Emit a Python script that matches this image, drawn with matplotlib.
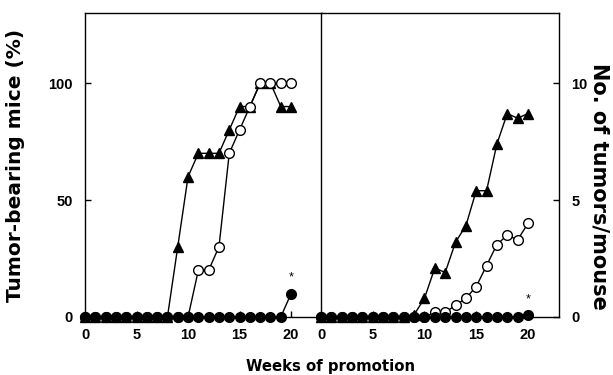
import matplotlib
matplotlib.use("Agg")
import matplotlib.pyplot as plt

plt.rcParams['font.family'] = ['Liberation Sans', 'DejaVu Sans']
plt.rcParams['font.weight'] = 'bold'

weeks = list(range(0, 21))

# left panel: tumor-bearing mice (%)
pct_triangle = [0, 0, 0, 0, 0, 0, 0, 0, 0, 30, 60, 70, 70, 70, 80, 90, 90, 100, 100, 90, 90]
pct_open = [0, 0, 0, 0, 0, 0, 0, 0, 0, 0, 0, 20, 20, 30, 70, 80, 90, 100, 100, 100, 100]
pct_filled = [0] * 20 + [10]
pct_star = (20, 17)

# right panel: no. of tumors/mouse
num_triangle = [0, 0, 0, 0, 0, 0, 0, 0, 0, 0.1, 0.8, 2.1, 1.9, 3.2, 3.9, 5.4, 5.4, 7.4, 8.7, 8.5, 8.7]
num_open = [0, 0, 0, 0, 0, 0, 0, 0, 0, 0, 0, 0.2, 0.2, 0.5, 0.8, 1.3, 2.2, 3.1, 3.5, 3.3, 4.0]
num_filled = [0] * 20 + [0.1]
num_star = (20, 0.75)

label_font = {'family': 'DejaVu Sans', 'weight': 'bold'}

fig = plt.figure(figsize=(6.13, 3.75), dpi=100)
ax1 = fig.add_axes([85 / 613, 1 - 317 / 375, 237 / 613, 304 / 375])
ax2 = fig.add_axes([321 / 613, 1 - 317 / 375, 238 / 613, 304 / 375])


def draw(ax, tri, opn, fil, star):
    ax.plot(weeks, tri, color='black', lw=1, marker='^', ms=7.5,
            mfc='black', mec='black', clip_on=False, zorder=3)
    ax.plot(weeks, opn, color='black', lw=1, marker='o', ms=7,
            mfc='white', mec='black', mew=1, clip_on=False, zorder=4)
    ax.plot(weeks, fil, color='black', lw=1, marker='o', ms=7,
            mfc='black', mec='black', clip_on=False, zorder=5)
    ax.text(star[0], star[1], '*', ha='center', va='center', fontsize=9,
            fontweight='normal')
    ax.set_xlim(0, 23)
    ax.set_xticks([0, 5, 10, 15, 20])
    ax.tick_params(direction='in', length=4, width=1, labelsize=10.5, pad=9)
    ax.tick_params(axis='x', pad=8)
    for s in ax.spines.values():
        s.set_linewidth(1)


draw(ax1, pct_triangle, pct_open, pct_filled, pct_star)
ax1.set_ylim(0, 130)
ax1.set_yticks([0, 50, 100])
ax1.spines['right'].set_visible(False)
ax1.set_ylabel('Tumor-bearing mice (%)', fontdict=label_font, fontsize=14.5)
ax1.yaxis.set_label_coords(-(85 - 25) / 237, 0.5)

draw(ax2, num_triangle, num_open, num_filled, num_star)
ax2.set_ylim(0, 13)
ax2.set_yticks([0, 5, 10])
ax2.yaxis.tick_right()
ax2.yaxis.set_label_position('right')
ax2.set_ylabel('No. of tumors/mouse', fontdict=label_font, fontsize=15,
               rotation=-90, va='center')
ax2.yaxis.set_label_coords(1 + (599 - 559) / 238, 1 - (186 - 13) / 304)

fig.text(330 / 613, 1 - 370.5 / 375, 'Weeks of promotion', ha='center', va='baseline',
         fontdict=label_font, fontsize=10.7)

fig.savefig('out.png', dpi=100)
